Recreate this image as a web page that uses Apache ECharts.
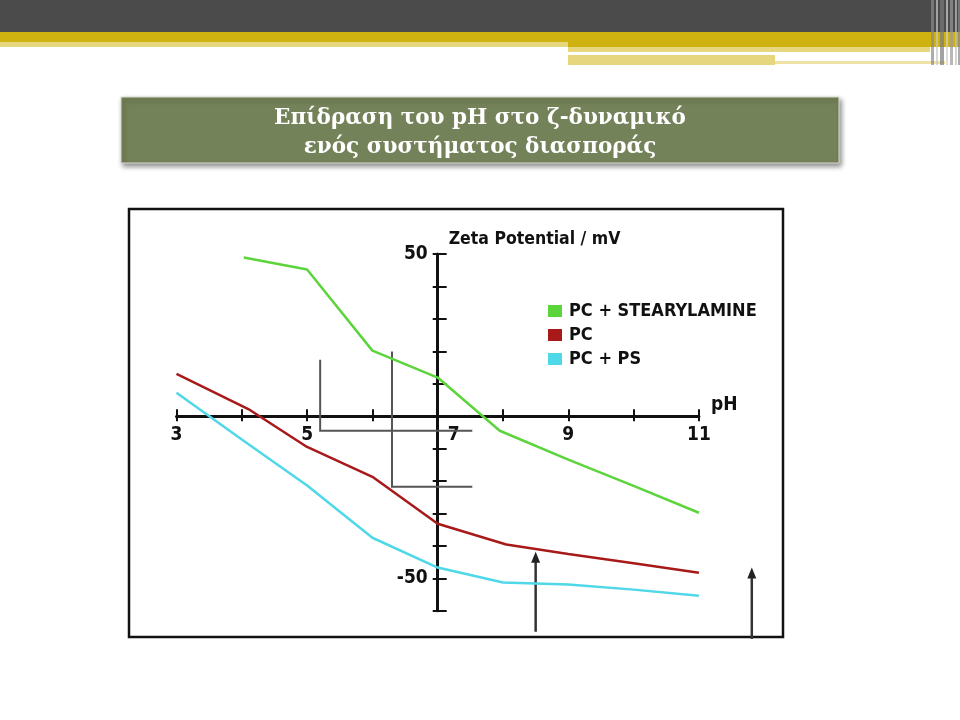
<!DOCTYPE html>
<html><head><meta charset="utf-8">
<script src="https://cdn.jsdelivr.net/npm/echarts@6/dist/echarts.min.js"></script>
<style>html,body{margin:0;padding:0;background:#fff}#c{width:960px;height:720px}</style>
</head><body><div id="c"></div>
<script>
// ---- data ----
const titleLines = ['Επίδραση του pH στο ζ-δυναμικό', 'ενός συστήματος διασποράς'];
const seriesNames = ['PC + STEARYLAMINE', 'PC', 'PC + PS'];
const greenPH   = [4.03, 5, 6, 7, 7.95, 9, 10, 11];
const greenZeta = [48.9, 45.2, 20.2, 11.9, -4.5, -13.4, -21.5, -29.8];
const redPH     = [3, 4.1, 5, 6, 7, 8.05, 9, 10, 11];
const redZeta   = [13.0, 2.2, -9.5, -18.7, -33.2, -39.6, -42.5, -45.4, -48.3];
const cyanPH    = [3, 4, 5, 6, 7, 8, 9, 10, 11];
const cyanZeta  = [7.2, -7.2, -21.4, -37.5, -46.7, -51.3, -51.9, -53.5, -55.4];
const xTickLabels = [3, 5, 7, 9, 11];
const yTickLabels = [50, -50];
const xName = 'pH';
const yName = 'Zeta Potential / mV';
// annotation guide lines and arrows, in (pH, mV)
const guideLines = [
  [[5.2, 17.4], [5.2, -4.5], [7.53, -4.5]],
  [[6.3, 19.9], [6.3, -21.8], [7.53, -21.8]]
];
const arrowLines = [
  [[8.5, -66.5], [8.5, -41.8]],
  [[11.81, -68.7], [11.81, -46.7]]
];

const PH0 = 7; // y axis crosses at pH 7
const COND = "'DejaVu Sans Condensed', sans-serif";
const colors = ['#5cd43c', '#a81a1a', '#4fd8e8'];
const X_MIN = -4, X_MAX = 4, Y_MIN = -60, Y_MAX = 50;

function toXY(ph, z) { return ph.map((p, i) => [p - PH0, z[i]]); }

// grid placement (pixels) and the offsets that move the axes onto the crossing point
const W = 960, H = 720;
const G = {left: 176.5, right: 261.1, top: 254, bottom: 109.3};
const gw = W - G.left - G.right, gh = H - G.top - G.bottom;
const zeroX = G.left + gw * (0 - X_MIN) / (X_MAX - X_MIN);
const zeroY = G.top + gh * (Y_MAX - 0) / (Y_MAX - Y_MIN);

const chart = echarts.init(document.getElementById('c'), null, {renderer: 'canvas'});

const baseX = {type: 'value', min: X_MIN, max: X_MAX, interval: 1, splitLine: {show: false}};
const baseY = {type: 'value', min: Y_MIN, max: Y_MAX, interval: 10, splitLine: {show: false}};

const option = {
  backgroundColor: '#ffffff',
  animation: false,
  title: {
    text: titleLines.join('\n'),
    left: 'center', top: 99,
    textStyle: {color: '#ffffff', fontFamily: "'DejaVu Serif', serif", fontWeight: 'bold', fontSize: 21.5, lineHeight: 29}
  },
  legend: {
    orient: 'vertical', left: 548, top: 302, padding: 0,
    icon: 'rect', itemWidth: 14, itemHeight: 12, itemGap: 6,
    data: seriesNames,
    textStyle: {fontFamily: COND, fontWeight: 'bold', fontSize: 18, lineHeight: 18, color: '#111', padding: [0, 0, 0, 2]}
  },
  grid: {left: G.left, right: G.right, top: G.top, bottom: G.bottom, outerBoundsMode: 'none'},
  xAxis: [
    Object.assign({}, baseX, {
      position: 'bottom', offset: -(G.top + gh - zeroY),
      name: xName, nameLocation: 'end', nameGap: 12,
      nameTextStyle: {fontFamily: COND, fontWeight: 'bold', fontSize: 19, color: '#111', verticalAlign: 'bottom', padding: [0, 0, 2, 0]},
      axisLine: {onZero: false, lineStyle: {color: '#111', width: 3}},
      axisTick: {show: true, length: 5, lineStyle: {color: '#111', width: 2}},
      axisLabel: {
        margin: 9, fontFamily: COND, fontWeight: 'bold', fontSize: 19, color: '#111',
        formatter: function (v) {
          const p = Math.round(v + PH0);
          if (xTickLabels.indexOf(p) < 0) return '';
          return p === PH0 ? '{s|' + p + '}' : String(p);
        },
        rich: {s: {fontFamily: COND, fontWeight: 'bold', fontSize: 19, color: '#111', padding: [0, 0, 0, 32]}}
      }
    }),
    Object.assign({}, baseX, {
      position: 'top', offset: -(zeroY - G.top),
      axisLine: {show: false, onZero: false},
      axisTick: {show: true, length: 7, lineStyle: {color: '#111', width: 2}},
      axisLabel: {show: false}
    })
  ],
  yAxis: [
    Object.assign({}, baseY, {
      position: 'left', offset: -(zeroX - G.left),
      name: yName, nameLocation: 'end', nameGap: 6,
      nameTextStyle: {fontFamily: COND, fontWeight: 'bold', fontSize: 17.5, color: '#111', align: 'left', verticalAlign: 'bottom', padding: [0, 0, 0, 11]},
      axisLine: {onZero: false, lineStyle: {color: '#111', width: 3}},
      axisTick: {show: true, length: 5, lineStyle: {color: '#111', width: 2}},
      axisLabel: {
        margin: 10, fontFamily: COND, fontWeight: 'bold', fontSize: 19, color: '#111',
        formatter: function (v) { return yTickLabels.indexOf(Math.round(v)) >= 0 ? String(Math.round(v)) : ''; }
      }
    }),
    Object.assign({}, baseY, {
      position: 'right', offset: -(G.left + gw - zeroX),
      axisLine: {show: false, onZero: false},
      axisTick: {show: true, length: 9, lineStyle: {color: '#111', width: 2}},
      axisLabel: {show: false}
    })
  ],
  series: [
    {name: seriesNames[0], type: 'line', data: toXY(greenPH, greenZeta), color: colors[0], symbol: 'none', lineStyle: {width: 2.5, color: colors[0]}, z: 3},
    {name: seriesNames[1], type: 'line', data: toXY(redPH, redZeta), color: colors[1], symbol: 'none', lineStyle: {width: 2.5, color: colors[1]}, z: 3},
    {name: seriesNames[2], type: 'line', data: toXY(cyanPH, cyanZeta), color: colors[2], symbol: 'none', lineStyle: {width: 2.5, color: colors[2]}, z: 3}
  ]
};
chart.setOption(option);

// ---- decorations ----
const g = [];
g.push({type: 'rect', id: 'h0', shape: {x: 0, y: 0, width: 960, height: 32}, style: {fill: '#4b4b4b'}, z: 0});
g.push({type: 'rect', id: 'h1', shape: {x: 0, y: 32, width: 960, height: 10}, style: {fill: '#cfb20f'}, z: 0});
g.push({type: 'rect', id: 'h2', shape: {x: 0, y: 42, width: 568, height: 5}, style: {fill: '#e6d67e'}, z: 0});
g.push({type: 'rect', id: 'h3', shape: {x: 568, y: 42, width: 392, height: 5}, style: {fill: '#cfb20f'}, z: 0});
g.push({type: 'rect', id: 'h4', shape: {x: 568, y: 47, width: 362, height: 5}, style: {fill: '#e6d67e'}, z: 0});
g.push({type: 'rect', id: 'h5', shape: {x: 568, y: 55, width: 207, height: 10}, style: {fill: '#e6d67e'}, z: 0});
g.push({type: 'rect', id: 'h6', shape: {x: 775, y: 61, width: 170, height: 3}, style: {fill: '#eee2a4'}, z: 0});
[[931, 3, '#8a8a8a'], [936, 2, '#c8c8c8'], [940, 4, '#7a7a7a'], [946, 2, '#d0d0d0'], [950, 3, '#9a9a9a'], [955, 2, '#c0c0c0'], [958, 2, '#888888']].forEach(function (s, i) {
  g.push({type: 'rect', id: 'vs' + i, shape: {x: s[0], y: 0, width: s[1], height: 65}, style: {fill: s[2], opacity: 0.7}, z: 1});
});
g.push({type: 'rect', id: 'tb', shape: {x: 121, y: 97, width: 718, height: 66},
  style: {fill: '#748259', stroke: '#d9ddd0', lineWidth: 1, shadowBlur: 5, shadowOffsetX: 2, shadowOffsetY: 3, shadowColor: 'rgba(0,0,0,0.45)'}, z: 0});
g.push({type: 'rect', id: 'fr', shape: {x: 129, y: 209, width: 654, height: 428}, style: {fill: 'none', stroke: '#111', lineWidth: 2.5}, z: 0});

function px(pt) { return chart.convertToPixel({xAxisIndex: 0, yAxisIndex: 0}, [pt[0] - PH0, pt[1]]); }
guideLines.forEach(function (line, i) {
  g.push({type: 'polyline', id: 'gl' + i, shape: {points: line.map(px)}, style: {stroke: '#555', lineWidth: 2, fill: null}, z: 2});
});
arrowLines.forEach(function (a, i) {
  const p0 = px(a[0]), p1 = px(a[1]);
  g.push({type: 'line', id: 'as' + i, shape: {x1: p0[0], y1: p0[1], x2: p1[0], y2: p1[1] + 8}, style: {stroke: '#333', lineWidth: 2.5}, z: 2});
  g.push({type: 'polygon', id: 'ah' + i, shape: {points: [[p1[0], p1[1]], [p1[0] - 4.5, p1[1] + 11], [p1[0] + 4.5, p1[1] + 11]]}, style: {fill: '#222'}, z: 2});
});
chart.setOption({graphic: g});
</script>
</body></html>
